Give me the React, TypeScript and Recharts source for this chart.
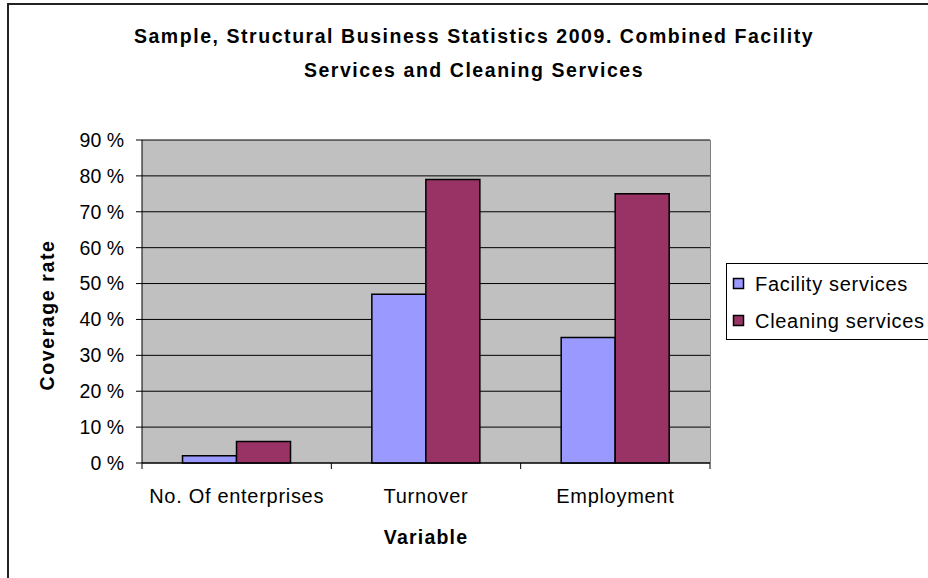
import React from "react";
import { BarChart, Bar, XAxis, YAxis, CartesianGrid } from "recharts";

const categories = ["No. Of enterprises", "Turnover", "Employment"];
const facilityValues = [2, 47, 35];
const cleaningValues = [6, 79, 75];
const yTicks = [0, 10, 20, 30, 40, 50, 60, 70, 80, 90];
const seriesNames = ["Facility services", "Cleaning services"];
const seriesColors = ["#9999FF", "#993366"];

const data = categories.map((c, i) => ({
  name: c,
  facility: facilityValues[i],
  cleaning: cleaningValues[i],
}));

const FONT = "'Liberation Sans', Arial, sans-serif";

const XTick = (props: any) => {
  const { x, y, payload, index, visibleTicksCount } = props;
  const half = payload && payload.offset ? payload.offset : 0;
  const last = index === (visibleTicksCount ?? categories.length) - 1;
  return (
    <g>
      <line x1={x - half} x2={x - half} y1={y - 8} y2={y - 2} stroke="#000" strokeWidth={1} />
      {last && <line x1={x + half} x2={x + half} y1={y - 8} y2={y - 2} stroke="#000" strokeWidth={1} />}
      <text x={x} y={y + 32} textAnchor="middle" fontSize={20} letterSpacing={0.7} fontFamily={FONT} fill="#000">
        {payload.value}
      </text>
    </g>
  );
};

export default function App() {
  return (
    <div style={{ position: "fixed", left: 0, top: 0, width: 928, height: 578, background: "#fff", fontFamily: FONT }}>
      <div style={{ position: "absolute", left: 7, top: 3, width: 960, height: 620, borderLeft: "2px solid #222", borderTop: "2px solid #222" }} />
      <BarChart
        width={928}
        height={578}
        data={data}
        margin={{ top: 140, right: 218, left: 0, bottom: 85 }}
        barCategoryGap="21.4%"
        barGap={0}
      >
        <CartesianGrid vertical={false} fill="#C0C0C0" stroke="#000" strokeWidth={1} />
        <XAxis
          dataKey="name"
          height={30}
          axisLine={{ stroke: "#000" }}
          tickLine={false}
          tick={<XTick />}
          interval={0}
        />
        <YAxis
          width={142}
          domain={[0, 90]}
          ticks={yTicks}
          interval={0}
          tickFormatter={(v: number) => `${v} %`}
          axisLine={{ stroke: "#000" }}
          tickLine={{ stroke: "#000" }}
          tickSize={6}
          tickMargin={12}
          tick={{ fontSize: 19.5, fontFamily: FONT, fill: "#000" }}
        />
        <Bar dataKey="facility" fill={seriesColors[0]} stroke="#000" strokeWidth={1.5} isAnimationActive={false} />
        <Bar dataKey="cleaning" fill={seriesColors[1]} stroke="#000" strokeWidth={1.5} isAnimationActive={false} />
      </BarChart>
      <svg width={928} height={578} style={{ position: "absolute", left: 0, top: 0, pointerEvents: "none" }}>
        <line x1={710.5} x2={710.5} y1={140} y2={463} stroke="#808080" strokeWidth={1} />
        <text x={474} y={43} textAnchor="middle" fontSize={19.5} letterSpacing={1.55} fontWeight="bold" fontFamily={FONT} fill="#000">
          Sample, Structural Business Statistics 2009. Combined Facility
        </text>
        <text x={474} y={77} textAnchor="middle" fontSize={19.5} letterSpacing={1.55} fontWeight="bold" fontFamily={FONT} fill="#000">
          Services and Cleaning Services
        </text>
        <text x={426} y={544} textAnchor="middle" fontSize={19.5} letterSpacing={1.2} fontWeight="bold" fontFamily={FONT} fill="#000">
          Variable
        </text>
        <text
          x={0}
          y={0}
          transform="translate(54,315) rotate(-90)"
          textAnchor="middle"
          fontSize={19.5}
          letterSpacing={1.6}
          fontWeight="bold"
          fontFamily={FONT}
          fill="#000"
        >
          Coverage rate
        </text>
        <rect x={726.5} y={263.5} width={240} height={76} fill="#fff" stroke="#000" strokeWidth={1} />
        {seriesNames.map((n, i) => (
          <g key={n}>
            <rect x={733.5} y={278.5 + i * 37} width={10} height={10} fill={seriesColors[i]} stroke="#000" strokeWidth={1.5} />
            <text x={755} y={291 + i * 37} fontSize={20} letterSpacing={0.7} fontFamily={FONT} fill="#000">
              {n}
            </text>
          </g>
        ))}
      </svg>
    </div>
  );
}
